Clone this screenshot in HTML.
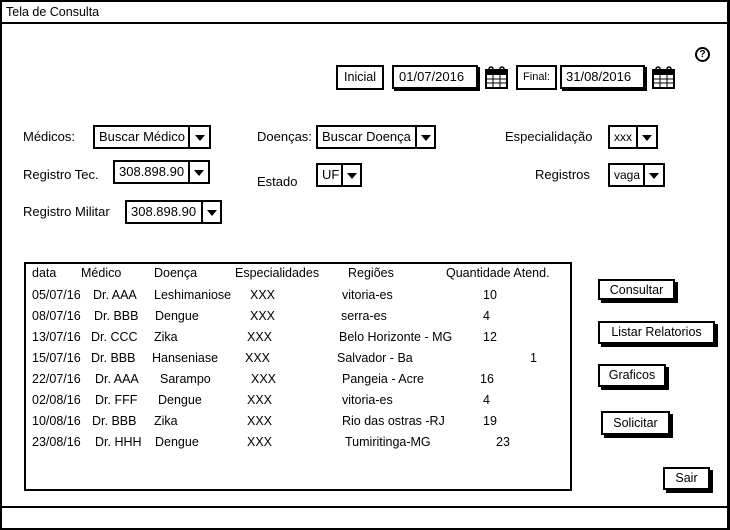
<!DOCTYPE html>
<html><head><meta charset="utf-8"><style>
*{margin:0;padding:0;box-sizing:border-box}
body{width:730px;height:530px;background:#fff;position:relative;overflow:hidden;font-family:"Liberation Sans",sans-serif;font-size:12.5px;color:#000}
.a{position:absolute;white-space:nowrap;line-height:14px}
.b{position:absolute;border:2px solid #000;background:#fff}
.sh{box-shadow:3px 3px 0 #000}
.cb{position:absolute;border:2px solid #000;background:#fff}
.cb span{position:absolute;left:4px;top:3px;line-height:14px;white-space:nowrap;font-size:13px}
.cb i{position:absolute;top:0;bottom:0;right:0;border-left:2px solid #000}
.cb i:after{content:"";position:absolute;left:50%;top:50%;margin:-2px 0 0 -5px;border-left:5px solid transparent;border-right:5px solid transparent;border-top:6px solid #000}
.btn{position:absolute;border:2px solid #000;background:#fff;box-shadow:3px 3px 0 #000;text-align:center;line-height:18px;font-size:12.5px}
</style></head><body>
<div class="b" style="left:0;top:0;width:730px;height:530px;border-right-width:3px"></div>
<div style="position:absolute;left:0;top:22px;width:730px;height:2px;background:#000"></div>
<div style="position:absolute;left:0;top:506px;width:730px;height:2px;background:#000"></div>
<div class="a" style="left:6px;top:5px">Tela de Consulta</div>

<div class="btn" style="left:336px;top:65px;width:48px;height:25px;line-height:21px;box-shadow:none">Inicial</div>
<div class="b sh" style="left:392px;top:65px;width:86px;height:24px;box-shadow:2px 2px 0 #000"></div>
<div class="a" style="left:399px;top:70px;font-size:13px">01/07/2016</div>
<div class="btn" style="left:516px;top:65px;width:41px;height:25px;line-height:21px;box-shadow:none;font-size:11px">Final:</div>
<div class="b" style="left:560px;top:65px;width:85px;height:24px;box-shadow:2px 2px 0 #000"></div>
<div class="a" style="left:566px;top:70px;font-size:13px">31/08/2016</div>
<svg style="position:absolute;left:485px;top:66px" width="24" height="24" viewBox="0 0 24 24"><rect x="1" y="4" width="21" height="18" fill="#fff" stroke="#000" stroke-width="2"/><rect x="1" y="4" width="21" height="5" fill="#000"/><path d="M8 9v13M15 9v13M1 13h21M1 17h21" stroke="#000"/><circle cx="6" cy="3" r="2" fill="none" stroke="#000" stroke-width="1.5"/><circle cx="17" cy="3" r="2" fill="none" stroke="#000" stroke-width="1.5"/></svg>
<svg style="position:absolute;left:652px;top:66px" width="24" height="24" viewBox="0 0 24 24"><rect x="1" y="4" width="21" height="18" fill="#fff" stroke="#000" stroke-width="2"/><rect x="1" y="4" width="21" height="5" fill="#000"/><path d="M8 9v13M15 9v13M1 13h21M1 17h21" stroke="#000"/><circle cx="6" cy="3" r="2" fill="none" stroke="#000" stroke-width="1.5"/><circle cx="17" cy="3" r="2" fill="none" stroke="#000" stroke-width="1.5"/></svg>
<div style="position:absolute;left:695px;top:47px;width:15px;height:15px;border:2px solid #000;border-radius:50%;font-size:10px;font-weight:bold;text-align:center;line-height:11px">?</div>

<div class="a" style="left:23px;top:130px;font-size:13px">Médicos:</div>
<div class="cb" style="left:93px;top:125px;width:118px;height:24px"><span>Buscar Médico</span><i style="width:21px"></i></div>
<div class="a" style="left:257px;top:130px;font-size:13px">Doenças:</div>
<div class="cb" style="left:316px;top:125px;width:120px;height:24px"><span>Buscar Doença</span><i style="width:19px"></i></div>
<div class="a" style="left:505px;top:130px;font-size:13px">Especialidação</div>
<div class="cb" style="left:608px;top:125px;width:50px;height:24px"><span style="font-size:12px">xxx</span><i style="width:20px"></i></div>

<div class="a" style="left:23px;top:168px;font-size:13px">Registro Tec.</div>
<div class="cb" style="left:113px;top:160px;width:97px;height:24px"><span>308.898.90</span><i style="width:20px"></i></div>
<div class="a" style="left:257px;top:175px;font-size:13px">Estado</div>
<div class="cb" style="left:316px;top:163px;width:46px;height:24px"><span>UF</span><i style="width:19px"></i></div>
<div class="a" style="left:535px;top:168px;font-size:13px">Registros</div>
<div class="cb" style="left:608px;top:163px;width:57px;height:24px"><span style="font-size:12px">vaga</span><i style="width:20px"></i></div>

<div class="a" style="left:23px;top:205px;font-size:13px">Registro Militar</div>
<div class="cb" style="left:125px;top:200px;width:97px;height:24px"><span>308.898.90</span><i style="width:19px"></i></div>

<div class="b" style="left:24px;top:262px;width:548px;height:229px"></div>
<div class="a" style="left:32px;top:266px">data</div><div class="a" style="left:81px;top:266px">Médico</div><div class="a" style="left:154px;top:266px">Doença</div><div class="a" style="left:235px;top:266px">Especialidades</div><div class="a" style="left:348px;top:266px">Regiões</div><div class="a" style="left:446px;top:266px">Quantidade Atend.</div>

<div class="a" style="left:32px;top:288px">05/07/16</div><div class="a" style="left:93px;top:288px">Dr. AAA</div><div class="a" style="left:154px;top:288px">Leshimaniose</div><div class="a" style="left:250px;top:288px">XXX</div><div class="a" style="left:342px;top:288px">vitoria-es</div><div class="a" style="left:483px;top:288px">10</div>
<div class="a" style="left:32px;top:309px">08/07/16</div><div class="a" style="left:94px;top:309px">Dr. BBB</div><div class="a" style="left:155px;top:309px">Dengue</div><div class="a" style="left:250px;top:309px">XXX</div><div class="a" style="left:341px;top:309px">serra-es</div><div class="a" style="left:483px;top:309px">4</div>
<div class="a" style="left:32px;top:330px">13/07/16</div><div class="a" style="left:91px;top:330px">Dr. CCC</div><div class="a" style="left:154px;top:330px">Zika</div><div class="a" style="left:247px;top:330px">XXX</div><div class="a" style="left:339px;top:330px">Belo Horizonte - MG</div><div class="a" style="left:483px;top:330px">12</div>
<div class="a" style="left:32px;top:351px">15/07/16</div><div class="a" style="left:91px;top:351px">Dr. BBB</div><div class="a" style="left:152px;top:351px">Hanseniase</div><div class="a" style="left:245px;top:351px">XXX</div><div class="a" style="left:337px;top:351px">Salvador - Ba</div><div class="a" style="left:530px;top:351px">1</div>
<div class="a" style="left:32px;top:372px">22/07/16</div><div class="a" style="left:95px;top:372px">Dr. AAA</div><div class="a" style="left:160px;top:372px">Sarampo</div><div class="a" style="left:251px;top:372px">XXX</div><div class="a" style="left:342px;top:372px">Pangeia - Acre</div><div class="a" style="left:480px;top:372px">16</div>
<div class="a" style="left:32px;top:393px">02/08/16</div><div class="a" style="left:95px;top:393px">Dr. FFF</div><div class="a" style="left:158px;top:393px">Dengue</div><div class="a" style="left:247px;top:393px">XXX</div><div class="a" style="left:342px;top:393px">vitoria-es</div><div class="a" style="left:483px;top:393px">4</div>
<div class="a" style="left:32px;top:414px">10/08/16</div><div class="a" style="left:92px;top:414px">Dr. BBB</div><div class="a" style="left:154px;top:414px">Zika</div><div class="a" style="left:247px;top:414px">XXX</div><div class="a" style="left:342px;top:414px">Rio das ostras -RJ</div><div class="a" style="left:483px;top:414px">19</div>
<div class="a" style="left:32px;top:435px">23/08/16</div><div class="a" style="left:95px;top:435px">Dr. HHH</div><div class="a" style="left:155px;top:435px">Dengue</div><div class="a" style="left:247px;top:435px">XXX</div><div class="a" style="left:345px;top:435px">Tumiritinga-MG</div><div class="a" style="left:496px;top:435px">23</div>

<div class="btn" style="left:598px;top:279px;width:77px;height:21px">Consultar</div>
<div class="btn" style="left:598px;top:321px;width:117px;height:23px;line-height:19px">Listar Relatorios</div>
<div class="btn" style="left:598px;top:364px;width:68px;height:23px;line-height:19px">Graficos</div>
<div class="btn" style="left:601px;top:411px;width:69px;height:24px;line-height:20px">Solicitar</div>
<div class="btn" style="left:663px;top:467px;width:47px;height:23px;line-height:19px">Sair</div>
</body></html>
